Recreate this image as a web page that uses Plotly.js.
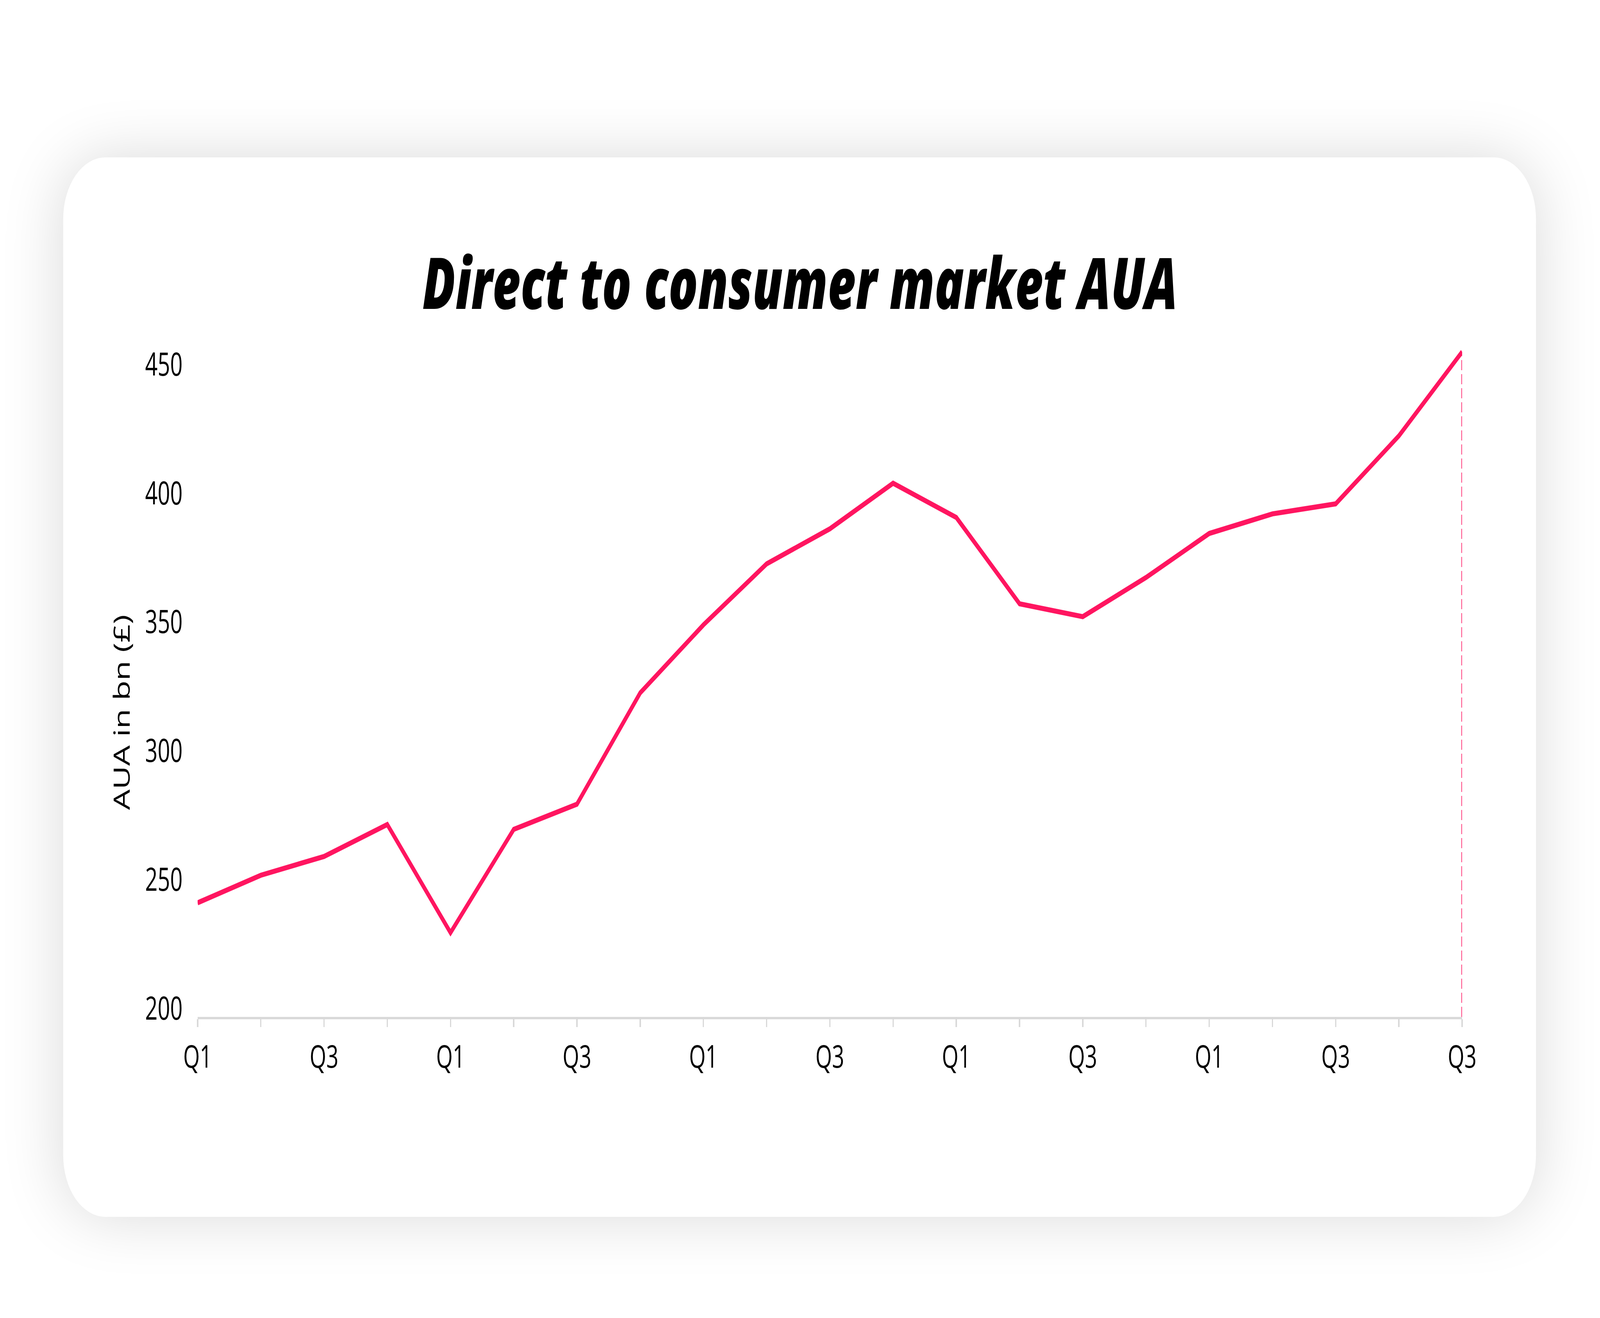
<!DOCTYPE html>
<html>
<head>
<meta charset="utf-8">
<script src="https://cdn.plot.ly/plotly-3.0.1.min.js"></script>
<style>
  html, body { margin: 0; padding: 0; background: #ffffff; overflow: hidden; }
  #page {
    position: absolute; left: 0; top: 0; width: 6000px; height: 3375px;
    background: #ffffff; transform-origin: 0 0;
  }
  #card {
    position: absolute; left: 237px; top: 403px; width: 5523px; height: 2713px;
    background: #ffffff; border-radius: 158px;
    box-shadow: 0 0 190px rgba(0, 0, 0, 0.15);
  }
  #plot { position: absolute; left: 0; top: 0; width: 6000px; height: 3375px; }
</style>
</head>
<body>
<div id="page">
  <div id="card"></div>
  <div id="plot"></div>
</div>
<script>
// quarter labels, one per point (the last one is Q3 in the source chart)
const quarters = [
  'Q1', 'Q2', 'Q3', 'Q4',
  'Q1', 'Q2', 'Q3', 'Q4',
  'Q1', 'Q2', 'Q3', 'Q4',
  'Q1', 'Q2', 'Q3', 'Q4',
  'Q1', 'Q2', 'Q3', 'Q4',
  'Q3'
];
// AUA in bn (£)
const auaBn = [
  244.3, 255.0, 262.3, 274.7,
  232.7, 272.8, 282.6, 325.8,
  352.2, 375.9, 389.5, 407.2,
  393.9, 360.4, 355.4, 370.6,
  387.7, 395.3, 399.2, 425.6,
  458.2
];
const yTicks = [200, 250, 300, 350, 400, 450];

// the drawing is laid out at 6000x3375; stretch it onto the real viewport
const page = document.getElementById('page');
const sx = (window.innerWidth || 6000) / 6000;
const sy = (window.innerHeight || 3375) / 3375;
page.style.transform = 'scale(' + sx + ',' + sy + ')';

const idx = quarters.map((_, i) => i);
const labelIdx = idx.filter(i => i % 2 === 0);
const last = idx.length - 1;

const pink = '#FF1560';
const grey = '#D9D9D9';

const traces = [
  // dashed drop line from the latest value down to the axis
  {
    x: [last, last], y: [yTicks[0], auaBn[last]],
    mode: 'lines', hoverinfo: 'skip',
    line: { color: '#FF5C92', width: 7, dash: '26px,10px' }
  },
  {
    x: idx, y: auaBn,
    mode: 'lines', name: 'AUA',
    line: { color: pink, width: 13 }
  }
];

const layout = {
  width: 6000, height: 3375,
  paper_bgcolor: 'rgba(0,0,0,0)', plot_bgcolor: 'rgba(0,0,0,0)',
  showlegend: false,
  margin: { l: 741, r: 517, t: 876, b: 771 },
  font: { family: 'Open Sans, sans-serif', color: '#000000', size: 80 },
  title: {
    text: 'Direct to consumer market AUA',
    xref: 'container', x: 0.5, xanchor: 'center',
    yref: 'container', y: 1 - 727 / 3375, yanchor: 'middle',
    font: { family: 'Open Sans, sans-serif', size: 182, weight: 800, style: 'italic', color: '#000000' }
  },
  xaxis: {
    range: [0, last],
    tickvals: labelIdx,
    ticktext: labelIdx.map(i => quarters[i]),
    ticks: 'outside', ticklen: 20, tickwidth: 5, tickcolor: grey,
    minor: { dtick: 1, tick0: 0, ticks: 'outside', ticklen: 20, tickwidth: 5, tickcolor: grey },
    showline: true, linecolor: grey, linewidth: 6,
    showgrid: false, zeroline: false,
    ticklabelstandoff: 8,
    tickfont: { size: 80 }
  },
  yaxis: {
    range: [yTicks[0], 462],
    tickvals: yTicks,
    ticks: '', showline: false, showgrid: false, zeroline: false,
    ticklabelstandoff: 55,
    ticklabelshift: -22,
    tickfont: { size: 82 }
  },
  annotations: [{
    text: 'AUA in bn (£)', textangle: -90, showarrow: false,
    xref: 'paper', x: (453 - 741) / (5483 - 741), xanchor: 'center',
    yref: 'paper', y: (2604 - 1824) / (2604 - 876), yanchor: 'middle',
    font: { size: 83, color: '#000000' }
  }]
};

Plotly.newPlot('plot', traces, layout, { displayModeBar: false, staticPlot: true });
</script>
</body>
</html>
